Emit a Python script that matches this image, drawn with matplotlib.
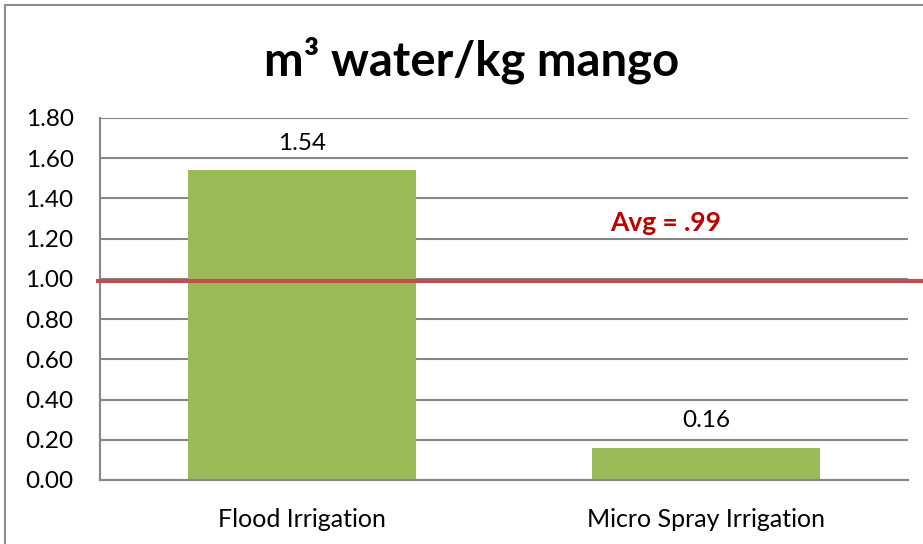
import matplotlib
matplotlib.use("Agg")
import matplotlib.pyplot as plt
import matplotlib.transforms as mtransforms
from matplotlib.patches import Rectangle

categories = ["Flood Irrigation", "Micro Spray Irrigation"]
values = [1.54, 0.16]
value_labels = ["1.54", "0.16"]
avg_value = 0.99
avg_label = "Avg = .99"
yticks = [0.0, 0.2, 0.4, 0.6, 0.8, 1.0, 1.2, 1.4, 1.6, 1.8]
title = "m³ water/kg mango"

plt.rcParams['font.family'] = ['Lato', 'DejaVu Sans']

fig = plt.figure(figsize=(9.23, 5.44), dpi=100)
ax = fig.add_axes([100/923, 1 - 480/544, 808/923, 362/544])

grid_c = "#868686"
bar_c = "#9BBB59"
red_c = "#C0504D"

x = list(range(len(categories)))
ax.bar(x, values, width=0.565, color=bar_c, zorder=2)
ax.set_xlim(-0.5, 1.5)
ax.set_ylim(0, 1.8)
ax.set_yticks(yticks)
ax.set_yticklabels([f"{v:.2f}" for v in yticks], fontsize=17.5)
ax.set_xticks(x)
ax.set_xticklabels(categories, fontsize=18)
ax.tick_params(axis='both', length=0)
ax.tick_params(axis='y', pad=19)
ax.tick_params(axis='x', pad=20)
ax.yaxis.grid(True, color=grid_c, linewidth=1.5, zorder=0)
ax.set_axisbelow(True)
for s in ["top", "right"]:
    ax.spines[s].set_visible(False)
for s in ["left", "bottom"]:
    ax.spines[s].set_color(grid_c)
    ax.spines[s].set_linewidth(1.5)

for xi, v, lab in zip(x, values, value_labels):
    ax.annotate(lab, (xi, v), xytext=(0, 12), textcoords="offset points",
                ha="center", va="bottom", fontsize=17.5)

trans = mtransforms.blended_transform_factory(ax.transAxes, ax.transData)
ax.plot([-0.005, 1.02], [avg_value, avg_value], color=red_c, linewidth=3,
        transform=trans, clip_on=False, zorder=3, solid_capstyle='butt')
ax.text(0.90, 1.28, avg_label, color="#C00000", fontsize=19, fontweight="bold",
        ha="center", va="center")

fig.text(472/923, 1 - 60/544, title, ha="center", va="center", fontsize=34,
         fontweight="bold")

fig.patches.append(Rectangle((5/923, -0.1), 1.2, 1 - 5/544 + 0.1,
                             transform=fig.transFigure, fill=False,
                             edgecolor="#8C8C8C", linewidth=1.5))

fig.savefig("out.png", dpi=100)
